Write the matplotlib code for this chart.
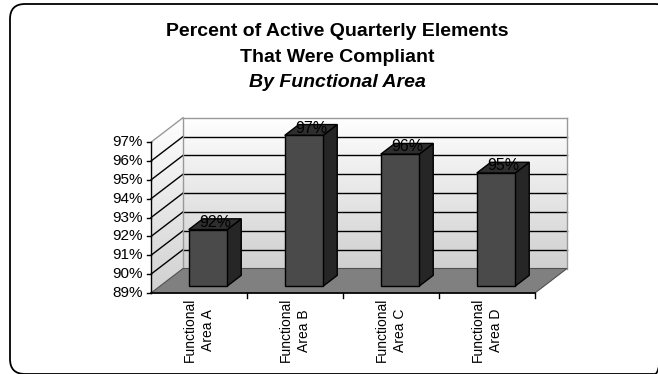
import numpy as np
import matplotlib
matplotlib.use("Agg")
import matplotlib.pyplot as plt
from matplotlib.patches import Polygon, FancyBboxPatch
from matplotlib.colors import LinearSegmentedColormap
import matplotlib.transforms as mtransforms

# ---------------- data ----------------
categories = ["Functional\nArea A", "Functional\nArea B", "Functional\nArea C", "Functional\nArea D"]
values = [92, 97, 96, 95]
value_labels = ["92%", "97%", "96%", "95%"]
y_ticks = [89, 90, 91, 92, 93, 94, 95, 96, 97]
y_tick_labels = ["89%", "90%", "91%", "92%", "93%", "94%", "95%", "96%", "97%"]
title_lines = ["Percent of Active Quarterly Elements", "That Were Compliant"]
subtitle = "By Functional Area"

plt.rcParams['font.family'] = ['Liberation Sans', 'DejaVu Sans']

W, H, DPI = 658, 374, 100
fig = plt.figure(figsize=(W / DPI, H / DPI), dpi=DPI, facecolor='white')

# background / frame axes in pixel units
bg = fig.add_axes([0, 0, 1, 1], zorder=0)
bg.set_xlim(0, W)
bg.set_ylim(H, 0)
bg.axis('off')
bg.add_patch(FancyBboxPatch((10, 4), 660, 370, boxstyle="round,pad=0,rounding_size=15",
                            fill=False, ec='black', lw=1.3))

# title
bg.text(337, 36, title_lines[0], ha='center', va='baseline', fontsize=14, fontweight='bold')
bg.text(337, 62, title_lines[1], ha='center', va='baseline', fontsize=14, fontweight='bold')
bg.text(337, 87, subtitle, ha='center', va='baseline', fontsize=14, fontweight='bold', fontstyle='italic')

# main chart axes: x in category units, y in percent units
ax = fig.add_axes([0, 0, 1, 1], zorder=1)
ax.axis('off')
px0, cat_px = 151, 96.0
vbase, pct_px, py0 = y_ticks[0], 18.85, 293
xlim = (-px0 / cat_px, (W - px0) / cat_px)
ylim = (vbase - (H - py0) / pct_px, vbase + py0 / pct_px)

DX = 32 / cat_px      # depth shift in category units
DY = 24.5 / pct_px    # depth shift in percent units


def proj(c, v, d):
    return (c + d * DX, v + d * DY)


nC = len(categories)
vmin, vmax = y_ticks[0], y_ticks[-1]

# ---- back wall gradient ----
cmap_wall = LinearSegmentedColormap.from_list('wall', ['#d0d0d0', '#ffffff'])
grad = np.linspace(0, 1, 256).reshape(-1, 1)
bl = proj(0, vmin, 1)
tr = proj(nC, vmax, 1)
ax.imshow(grad, cmap=cmap_wall, origin='lower', aspect='auto',
          extent=[bl[0], tr[0], bl[1], tr[1]], zorder=1, interpolation='bilinear')

# ---- left wall gradient clipped ----
lw_poly = [proj(0, vmin, 0), proj(0, vmin, 1), proj(0, vmax, 1), proj(0, vmax, 0)]
xs = [p[0] for p in lw_poly]
ys = [p[1] for p in lw_poly]
im = ax.imshow(grad, cmap=cmap_wall, origin='lower', aspect='auto',
               extent=[min(xs), max(xs), min(ys), max(ys)], zorder=1, interpolation='bilinear')
clip = Polygon(lw_poly, closed=True, transform=ax.transData, fc='none', ec='none')
ax.add_patch(clip)
im.set_clip_path(clip)

# ---- gridlines ----
for t in y_ticks[1:-1]:
    a, b = proj(0, t, 1), proj(nC, t, 1)
    ax.plot([a[0], b[0]], [a[1], b[1]], color='black', lw=1.0, zorder=2)
    a, b = proj(0, t, 0), proj(0, t, 1)
    ax.plot([a[0], b[0]], [a[1], b[1]], color='black', lw=1.0, zorder=2)

# wall outlines (gray)
edge_c = '#999999'
for seg in [((0, vmax, 0), (0, vmax, 1)), ((0, vmax, 1), (nC, vmax, 1)),
            ((nC, vmax, 1), (nC, vmin, 1)), ((0, vmin, 1), (0, vmax, 1))]:
    a, b = proj(*seg[0]), proj(*seg[1])
    ax.plot([a[0], b[0]], [a[1], b[1]], color=edge_c, lw=1.0, zorder=2)

# ---- floor ----
floor = [proj(0, vmin, 0), proj(nC, vmin, 0), proj(nC, vmin, 1), proj(0, vmin, 1)]
ax.add_patch(Polygon(floor, closed=True, fc='#808080', ec='#505050', lw=0.8, zorder=3))

# ---- axes lines ----
a, b = proj(0, vmin, 0), proj(0, vmax, 0)
ax.plot([a[0], b[0]], [a[1], b[1]], color='black', lw=1.0, zorder=4)
a, b = proj(0, vmin, 0), proj(nC, vmin, 0)
ax.plot([a[0], b[0]], [a[1], b[1]], color='black', lw=1.2, zorder=4)

tick_px = 4
for t, lab in zip(y_ticks, y_tick_labels):
    p = proj(0, t, 0)
    ax.plot([p[0] - tick_px / cat_px, p[0]], [p[1], p[1]], color='black', lw=1.0, zorder=4)
    tr_off = mtransforms.offset_copy(ax.transData, fig=fig, x=-8, y=0, units='dots')
    ax.text(p[0], p[1], lab, transform=tr_off, ha='right', va='center', fontsize=11, zorder=5)

for i in range(1, nC + 1):
    p = proj(i, vmin, 0)
    ax.plot([p[0], p[0]], [p[1], p[1] - 5 / pct_px], color='black', lw=1.0, zorder=4)

for i, lab in enumerate(categories):
    p = proj(i + 0.5, vmin, 0)
    tr_off = mtransforms.offset_copy(ax.transData, fig=fig, x=0, y=-5, units='dots')
    ax.text(p[0], p[1], lab, transform=tr_off, ha='center', va='top', rotation=90,
            multialignment='center', linespacing=1.35, fontsize=10, zorder=5)

# ---- bars ----
bw, d0, d1 = 0.4, 0.28, 0.72
for i, (v, lab) in enumerate(zip(values, value_labels)):
    c0 = i + (1 - bw) / 2
    c1 = c0 + bw
    front = [proj(c0, vmin, d0), proj(c1, vmin, d0), proj(c1, v, d0), proj(c0, v, d0)]
    side = [proj(c1, vmin, d0), proj(c1, vmin, d1), proj(c1, v, d1), proj(c1, v, d0)]
    top = [proj(c0, v, d0), proj(c1, v, d0), proj(c1, v, d1), proj(c0, v, d1)]
    ax.add_patch(Polygon(side, closed=True, fc='#262626', ec='black', lw=1.0, zorder=6))
    ax.add_patch(Polygon(top, closed=True, fc='#2e2e2e', ec='black', lw=1.0, zorder=6))
    ax.add_patch(Polygon(front, closed=True, fc='#4a4a4a', ec='black', lw=1.0, zorder=6))
    p = proj(i + 0.5, v, 0.5)
    ax.text(p[0], p[1] + 0.1, lab, ha='center', va='center', fontsize=11.5, zorder=7)

ax.set_xlim(*xlim)
ax.set_ylim(*ylim)

fig.savefig('out.png', dpi=DPI, facecolor='white')
